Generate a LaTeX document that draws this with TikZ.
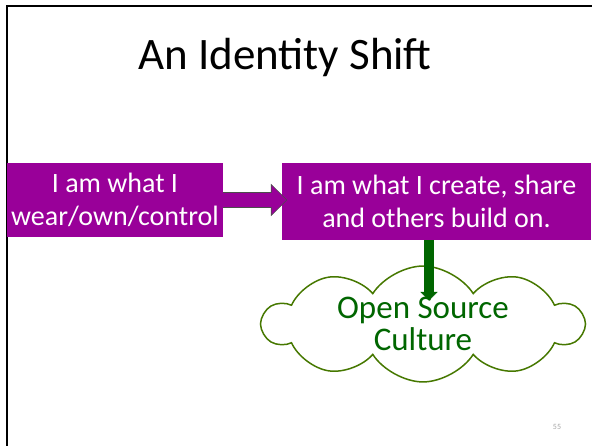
\documentclass[tikz,border=0pt]{standalone}
\usepackage{fontspec}
\setmainfont{Carlito}
\usetikzlibrary{shapes.symbols,calc}
\definecolor{plum}{RGB}{153,0,153}
\definecolor{leaf}{RGB}{0,102,0}
\definecolor{cloudline}{RGB}{70,120,0}

\begin{document}
\begin{tikzpicture}[x=1pt,y=1pt]
\tikzset{idbox/.style={fill=plum,text=white,align=center,inner sep=0pt,font=\fontsize{28}{33}\selectfont},
  blockarrow/.style={line width=0.6pt,line join=miter}}
\useasboundingbox (0,0) rectangle (592,446);
\draw[line width=1.6pt] (7,0) |- (592,440);

\node[anchor=base] (title) at (285,376) {\fontsize{45}{50}\selectfont An Identity Shift};

\node[idbox,minimum width=216pt,minimum height=74pt] (own) at (115,246) {I am what I\\wear/own/control};
\node[idbox,minimum width=309pt,minimum height=77pt] (share) at (436.5,244.5) {I am what I create, share\\and others build on.};

\node[cloud,cloud puffs=10,cloud puff arc=115,aspect=3.4,draw=cloudline,line width=1.5pt,fill=white,
  text=leaf,align=center,inner sep=0pt,minimum width=320pt,minimum height=90pt,
  font=\fontsize{33}{32}\selectfont] (osc) at (423,122) {Open Source\\Culture};

% arrows between the boxes
\draw[blockarrow,fill=plum,draw=black!70] ($(own.east)+(0,7.5)$) -- ++(48,0) -- ++(0,8)
  -- ($(share.west |- own.east)+(5,0)$) -- ($(own.east)+(48,-15.5)$) -- ++(0,8) -- ($(own.east)+(0,-7.5)$);
\coordinate (drop) at ($(share.south)+(-7.5,0)$);
\draw[blockarrow,fill=leaf,draw=black!60!green] ($(drop)+(-4.5,0)$) -- ++(0,-52) -- ++(-3.5,0)
  -- ($(drop)+(0,-60)$) -- ($(drop)+(8,-52)$) -- ++(-3.5,0) -- ($(drop)+(4.5,0)$);

\node[text=black!35,font=\fontsize{8}{9}\selectfont] (page) at (557,19) {55};
\end{tikzpicture}
\end{document}
